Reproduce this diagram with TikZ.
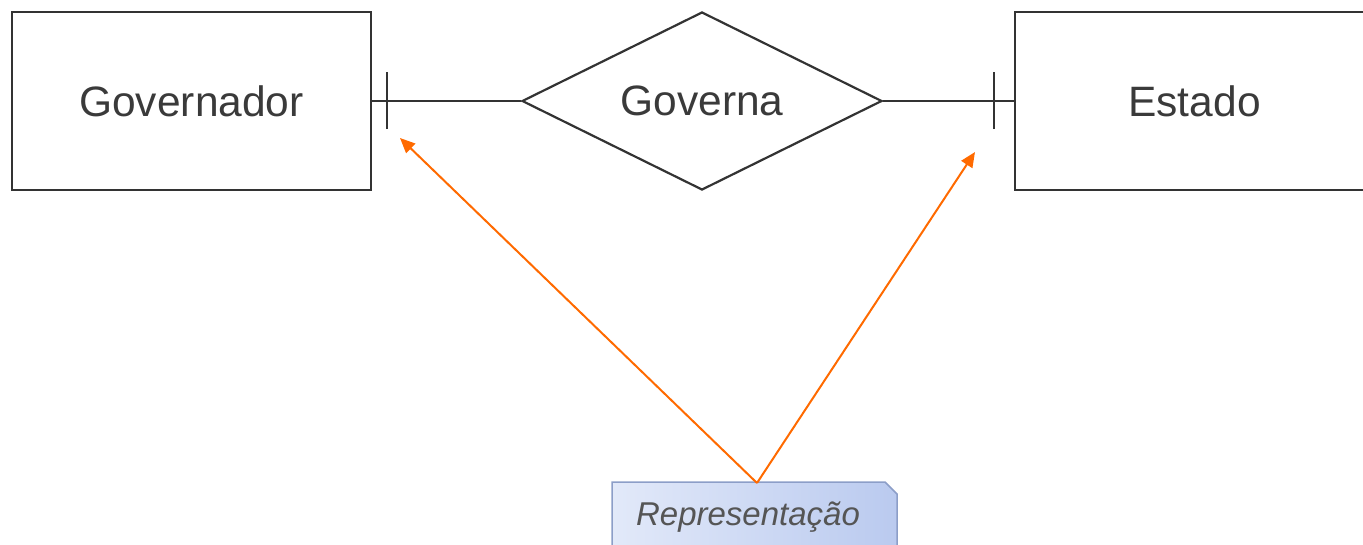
\documentclass[tikz,border=0pt]{standalone}
\usepackage{fontspec}
\setmainfont{Liberation Sans}
\usetikzlibrary{shapes.geometric,shapes.misc,arrows.meta}
\definecolor{erline}{HTML}{333333}
\definecolor{ertext}{HTML}{3A3A3A}
\definecolor{orangeline}{HTML}{FF6A00}
\definecolor{noteL}{HTML}{E2E9F9}
\definecolor{noteR}{HTML}{BACAEF}
\definecolor{noteB}{HTML}{8C9EC8}
\definecolor{notetext}{HTML}{555555}
\tikzset{
  entity/.style={draw=erline, line width=2.2pt, rectangle, minimum width=359pt, minimum height=178pt, inner sep=0pt, text=ertext, font=\fontsize{42.5}{44}\selectfont},
  relation/.style={draw=erline, line width=2.2pt, diamond, aspect=2.02, minimum width=360pt, minimum height=178pt, inner sep=0pt, text=ertext, font=\fontsize{42.5}{44}\selectfont},
  conn/.style={draw=erline, line width=2.4pt},
  tickbar/.style={draw=erline, line width=2.4pt},
  pointer/.style={draw=orangeline, line width=2pt, -{Triangle[length=15pt,width=13pt]}},
  note/.style={chamfered rectangle, chamfered rectangle corners=north east, chamfered rectangle xsep=6pt, chamfered rectangle ysep=6pt, draw=noteB, line width=1.5pt, left color=noteL, right color=noteR, minimum width=285pt, minimum height=70pt, inner sep=0pt, text=notetext, font=\fontsize{33}{35}\selectfont\itshape}
}
\begin{document}
\begin{tikzpicture}[x=1pt,y=-1pt]
\clip (0,0) rectangle (1363,544);
\useasboundingbox (0,0) rectangle (1363,544);
\node[entity] (gov) at (191.5,101) {Governador};
\node[relation] (rel) at (702,101) {Governa};
\node[entity] (est) at (1194.5,101) {Estado};
\draw[conn] (gov.east) -- (rel.west);
\draw[conn] (rel.east) -- (est.west);
\coordinate (tl) at (387,101);
\coordinate (tr) at (994,101);
\draw[tickbar] ([yshift=-28pt]tl) -- ([yshift=29pt]tl);
\draw[tickbar] ([yshift=-28pt]tr) -- ([yshift=29pt]tr);
\node[note] (nt) at (754.5,517) {Representação\hspace*{13pt}};
\coordinate (p1) at (400,138);
\coordinate (p2) at (975,152);
\coordinate (src) at (757,483);
\draw[pointer] (src) -- (p1);
\draw[pointer] (src) -- (p2);
\end{tikzpicture}
\end{document}
